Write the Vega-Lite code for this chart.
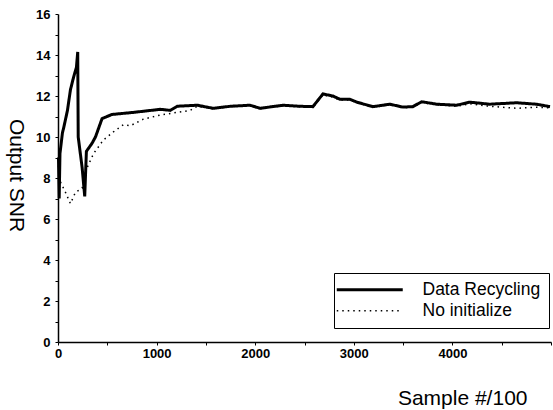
{
  "$schema": "https://vega.github.io/schema/vega-lite/v6.json",
  "width": 493,
  "height": 328,
  "autosize": "none",
  "padding": {"left": 58, "top": 14, "right": 2, "bottom": 68},
  "config": {
    "view": {"stroke": null},
    "axis": {
      "grid": false,
      "domainColor": "black",
      "domainWidth": 1.5,
      "tickColor": "black",
      "tickSize": 3,
      "labelColor": "black",
      "titleColor": "black",
      "labelFont": "Liberation Sans",
      "titleFont": "Liberation Sans",
      "labelFontSize": 13,
      "labelFontWeight": "bold",
      "titleFontWeight": "normal"
    },
    "legend": {
      "title": null,
      "orient": "none",
      "legendX": 276,
      "legendY": 259,
      "strokeColor": "black",
      "padding": 8,
      "symbolType": "M-6,0H6",
      "symbolSize": 121,
      "symbolOffset": 19,
      "symbolStrokeColor": "black",
      "labelFont": "Liberation Sans",
      "labelFontSize": 17.5,
      "labelColor": "black",
      "labelOffset": 44,
      "rowPadding": 2
    }
  },
  "data": {
    "values": [
      {"x": 5, "y": 9.0, "series": "Data Recycling"},
      {"x": 12, "y": 7.0, "series": "Data Recycling"},
      {"x": 20, "y": 9.2, "series": "Data Recycling"},
      {"x": 45, "y": 10.2, "series": "Data Recycling"},
      {"x": 60, "y": 10.5, "series": "Data Recycling"},
      {"x": 96, "y": 11.3, "series": "Data Recycling"},
      {"x": 126, "y": 12.3, "series": "Data Recycling"},
      {"x": 157, "y": 12.9, "series": "Data Recycling"},
      {"x": 187, "y": 13.4, "series": "Data Recycling"},
      {"x": 200, "y": 14.15, "series": "Data Recycling"},
      {"x": 205, "y": 10.0, "series": "Data Recycling"},
      {"x": 245, "y": 8.5, "series": "Data Recycling"},
      {"x": 271, "y": 7.1, "series": "Data Recycling"},
      {"x": 288, "y": 9.3, "series": "Data Recycling"},
      {"x": 346, "y": 9.7, "series": "Data Recycling"},
      {"x": 380, "y": 10.0, "series": "Data Recycling"},
      {"x": 447, "y": 10.9, "series": "Data Recycling"},
      {"x": 548, "y": 11.1, "series": "Data Recycling"},
      {"x": 764, "y": 11.2, "series": "Data Recycling"},
      {"x": 1037, "y": 11.35, "series": "Data Recycling"},
      {"x": 1138, "y": 11.3, "series": "Data Recycling"},
      {"x": 1209, "y": 11.5, "series": "Data Recycling"},
      {"x": 1412, "y": 11.55, "series": "Data Recycling"},
      {"x": 1574, "y": 11.4, "series": "Data Recycling"},
      {"x": 1750, "y": 11.5, "series": "Data Recycling"},
      {"x": 1948, "y": 11.55, "series": "Data Recycling"},
      {"x": 2049, "y": 11.4, "series": "Data Recycling"},
      {"x": 2282, "y": 11.55, "series": "Data Recycling"},
      {"x": 2450, "y": 11.5, "series": "Data Recycling"},
      {"x": 2585, "y": 11.48, "series": "Data Recycling"},
      {"x": 2687, "y": 12.1, "series": "Data Recycling"},
      {"x": 2788, "y": 12.0, "series": "Data Recycling"},
      {"x": 2859, "y": 11.84, "series": "Data Recycling"},
      {"x": 2960, "y": 11.84, "series": "Data Recycling"},
      {"x": 3031, "y": 11.7, "series": "Data Recycling"},
      {"x": 3193, "y": 11.48, "series": "Data Recycling"},
      {"x": 3365, "y": 11.6, "series": "Data Recycling"},
      {"x": 3497, "y": 11.46, "series": "Data Recycling"},
      {"x": 3598, "y": 11.48, "series": "Data Recycling"},
      {"x": 3689, "y": 11.72, "series": "Data Recycling"},
      {"x": 3841, "y": 11.6, "series": "Data Recycling"},
      {"x": 4043, "y": 11.55, "series": "Data Recycling"},
      {"x": 4175, "y": 11.7, "series": "Data Recycling"},
      {"x": 4377, "y": 11.6, "series": "Data Recycling"},
      {"x": 4650, "y": 11.67, "series": "Data Recycling"},
      {"x": 4852, "y": 11.6, "series": "Data Recycling"},
      {"x": 4990, "y": 11.48, "series": "Data Recycling"},
      {"x": 5, "y": 8.6, "series": "No initialize"},
      {"x": 15, "y": 7.9, "series": "No initialize"},
      {"x": 76, "y": 7.3, "series": "No initialize"},
      {"x": 126, "y": 6.75, "series": "No initialize"},
      {"x": 177, "y": 7.3, "series": "No initialize"},
      {"x": 245, "y": 7.5, "series": "No initialize"},
      {"x": 261, "y": 7.9, "series": "No initialize"},
      {"x": 295, "y": 8.5, "series": "No initialize"},
      {"x": 362, "y": 9.2, "series": "No initialize"},
      {"x": 460, "y": 9.85, "series": "No initialize"},
      {"x": 562, "y": 10.25, "series": "No initialize"},
      {"x": 663, "y": 10.6, "series": "No initialize"},
      {"x": 734, "y": 10.55, "series": "No initialize"},
      {"x": 865, "y": 10.87, "series": "No initialize"},
      {"x": 1037, "y": 11.07, "series": "No initialize"},
      {"x": 1209, "y": 11.2, "series": "No initialize"},
      {"x": 1341, "y": 11.3, "series": "No initialize"},
      {"x": 1412, "y": 11.5, "series": "No initialize"},
      {"x": 1574, "y": 11.38, "series": "No initialize"},
      {"x": 1750, "y": 11.48, "series": "No initialize"},
      {"x": 1948, "y": 11.52, "series": "No initialize"},
      {"x": 2049, "y": 11.38, "series": "No initialize"},
      {"x": 2282, "y": 11.52, "series": "No initialize"},
      {"x": 2450, "y": 11.48, "series": "No initialize"},
      {"x": 2585, "y": 11.45, "series": "No initialize"},
      {"x": 2687, "y": 12.05, "series": "No initialize"},
      {"x": 2788, "y": 11.95, "series": "No initialize"},
      {"x": 2859, "y": 11.8, "series": "No initialize"},
      {"x": 2960, "y": 11.8, "series": "No initialize"},
      {"x": 3031, "y": 11.68, "series": "No initialize"},
      {"x": 3193, "y": 11.45, "series": "No initialize"},
      {"x": 3365, "y": 11.57, "series": "No initialize"},
      {"x": 3497, "y": 11.43, "series": "No initialize"},
      {"x": 3598, "y": 11.45, "series": "No initialize"},
      {"x": 3689, "y": 11.68, "series": "No initialize"},
      {"x": 3841, "y": 11.57, "series": "No initialize"},
      {"x": 4043, "y": 11.5, "series": "No initialize"},
      {"x": 4175, "y": 11.62, "series": "No initialize"},
      {"x": 4377, "y": 11.5, "series": "No initialize"},
      {"x": 4650, "y": 11.4, "series": "No initialize"},
      {"x": 4852, "y": 11.45, "series": "No initialize"},
      {"x": 4990, "y": 11.42, "series": "No initialize"}
    ]
  },
  "mark": {"type": "line", "color": "black"},
  "encoding": {
    "x": {
      "field": "x",
      "type": "quantitative",
      "scale": {"domain": [0, 5000], "nice": false},
      "axis": {
        "values": [0, 500, 1000, 1500, 2000, 2500, 3000, 3500, 4000, 4500, 5000],
        "labelExpr": "datum.value % 1000 == 0 && datum.value < 5000 ? datum.label : ''",
        "labelFlush": false,
        "format": "d",
        "title": "Sample #/100",
        "titleFontSize": 21,
        "titleAlign": "right",
        "titleBaseline": "middle",
        "titleX": 469,
        "titleY": 56
      }
    },
    "y": {
      "field": "y",
      "type": "quantitative",
      "scale": {"domain": [0, 16], "nice": false},
      "axis": {
        "values": [0, 1, 2, 3, 4, 5, 6, 7, 8, 9, 10, 11, 12, 13, 14, 15, 16],
        "labelExpr": "datum.value % 2 == 0 ? datum.label : ''",
        "labelPadding": 5,
        "title": "Output SNR",
        "titleFontSize": 21,
        "titleAngle": 90,
        "titleBaseline": "middle",
        "titleX": -43,
        "titleY": 161
      }
    },
    "strokeDash": {
      "field": "series",
      "type": "nominal",
      "scale": {"domain": ["Data Recycling", "No initialize"], "range": [[1, 0], [1.5, 4]]},
      "legend": {"title": null}
    },
    "strokeWidth": {
      "field": "series",
      "type": "nominal",
      "scale": {"domain": ["Data Recycling", "No initialize"], "range": [3, 1.5]},
      "legend": {"title": null}
    }
  }
}
